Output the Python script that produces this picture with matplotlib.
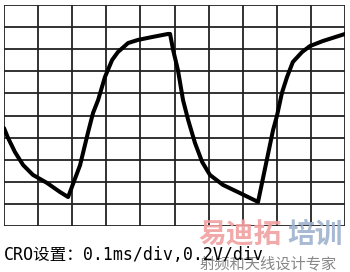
import matplotlib
matplotlib.use('Agg')
import matplotlib.pyplot as plt

# trace, in divisions (x: 0..10, y: 0..10 from bottom)
t_div = [0.00, 0.12, 0.32, 0.56, 0.85, 1.26, 1.64, 1.88, 2.23, 2.46, 2.61, 2.76,
         2.96, 3.17, 3.34, 3.64, 3.93, 4.34, 4.81, 4.87, 4.96, 5.10, 5.25, 5.40,
         5.60, 5.81, 6.04, 6.42, 6.92, 7.45, 7.89, 8.01, 8.15, 8.30, 8.47, 8.74,
         8.97, 9.35, 10.0]
v_div = [4.43, 3.98, 3.35, 2.76, 2.31, 1.95, 1.54, 1.31, 2.75, 4.21, 5.11, 5.70,
         6.74, 7.51, 7.87, 8.28, 8.42, 8.55, 8.69, 8.69, 7.96, 7.06, 5.70, 4.80,
         3.76, 2.90, 2.31, 1.86, 1.49, 1.09, 4.34, 5.02, 6.02, 6.74, 7.42, 7.87,
         8.14, 8.37, 8.69]
caption = 'CRO设置：0.1ms/div,0.2V/div'

fig = plt.figure(figsize=(3.5, 2.72), dpi=100)
ax = fig.add_axes([4/350, 46/272, 341/350, 221/272])
ax.set_xlim(0, 10)
ax.set_ylim(0, 10)

# graticule
for i in range(11):
    ax.axvline(i, color='#222222', lw=1.3, zorder=1)
    ax.axhline(i, color='#222222', lw=1.3, zorder=1)

ax.plot(t_div, v_div, color='black', lw=2.9, solid_joinstyle='round',
        solid_capstyle='round', zorder=3)
ax.set_xticks([])
ax.set_yticks([])
for s in ax.spines.values():
    s.set_visible(False)

# watermark (drawn first, caption sits over it like in the scan)
fig.text(198/350, 1 - 235/272, '易迪拓', fontsize=20, fontweight='bold', color='#f0a0a0',
         va='center', ha='left', family=['Noto Sans CJK SC'], alpha=0.9)
fig.text(287/350, 1 - 235/272, '培训', fontsize=20, fontweight='bold', color='#9fb3cf',
         va='center', ha='left', family=['Noto Sans CJK SC'], alpha=0.9)
fig.text(200/350, 1 - 264/272, '射频和天线设计专家', fontsize=11, color='#888888',
         va='center', ha='left', family=['Noto Sans CJK SC'])

fig.text(4/350, 1 - 255/272, caption, fontsize=12, va='center', ha='left',
         family=['DejaVu Sans Mono', 'Noto Sans CJK SC'])

fig.savefig('out.png', dpi=100)
